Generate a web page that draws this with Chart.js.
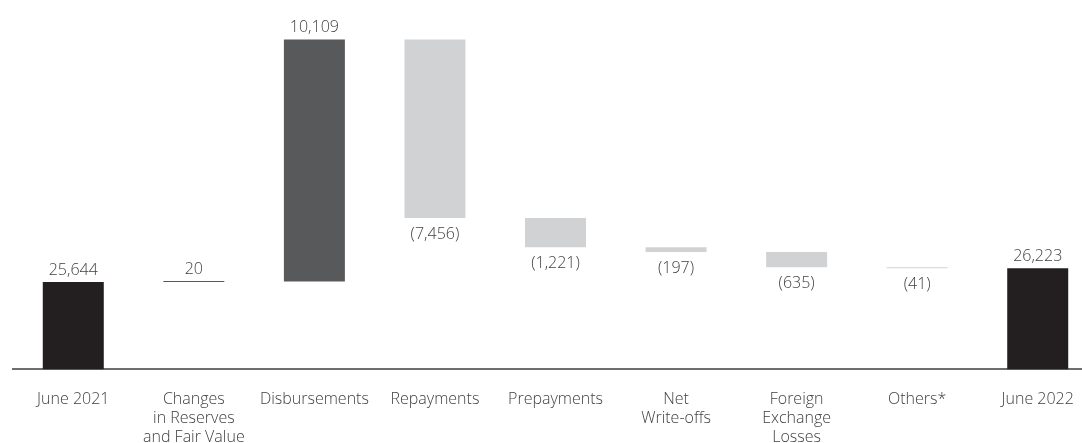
<!DOCTYPE html>
<html>
<head>
    <title>Loan Portfolio Movement</title>
    <script src="https://cdn.jsdelivr.net/npm/chart.js"></script>
    <style>
      body { margin: 0; overflow: hidden; background: #fff; }
    </style>
</head>
<body>
    <canvas id="chart" width="1100" height="467"></canvas>

    <script>
    // categories and values
    const labels = [
      'June 2021',
      ['Changes', 'in Reserves', 'and Fair Value'],
      'Disbursements',
      'Repayments',
      'Prepayments',
      ['Net', 'Write-offs'],
      ['Foreign', 'Exchange', 'Losses'],
      'Others*',
      'June 2022'
    ];
    const startTotal = 25644;
    const changes = [20, 10109, -7456, -1221, -197, -635, -41];
    const endTotal = 26223;

    const axisMin = 22000;
    const axisMax = 37000;

    // build floating bars for the waterfall
    const bars = [[axisMin, startTotal]];
    const shown = [startTotal];
    const colors = ['#231f20'];
    let running = startTotal;
    changes.forEach(c => {
      bars.push([running, running + c]);
      running += c;
      shown.push(c);
      colors.push(c >= 0 ? '#58595b' : '#d1d2d4');
    });
    bars.push([axisMin, endTotal]);
    shown.push(endTotal);
    colors.push('#231f20');

    function fmt(v) {
      const s = Math.abs(v).toLocaleString('en-US');
      return v < 0 ? '(' + s + ')' : s;
    }

    const valueLabels = {
      id: 'valueLabels',
      afterDatasetsDraw(chart) {
        const ctx = chart.ctx;
        const meta = chart.getDatasetMeta(0);
        ctx.save();
        ctx.font = '300 16px "Open Sans"';
        ctx.fillStyle = '#414042';
        ctx.textAlign = 'center';
        meta.data.forEach((bar, i) => {
          const v = shown[i];
          const top = Math.min(bar.y, bar.base);
          const bottom = Math.max(bar.y, bar.base);
          if (v < 0) {
            ctx.textBaseline = 'top';
            ctx.fillText(fmt(v), bar.x, bottom + 8);
          } else {
            ctx.textBaseline = 'bottom';
            ctx.fillText(fmt(v), bar.x, top - 4);
          }
        });
        ctx.restore();
      }
    };

    const ctx = document.getElementById('chart').getContext('2d');
    const chart = new Chart(ctx, {
      type: 'bar',
      data: {
        labels: labels,
        datasets: [{
          data: bars,
          backgroundColor: colors,
          borderWidth: 0,
          barPercentage: 0.506,
          categoryPercentage: 1,
          minBarLength: 1
        }]
      },
      options: {
        responsive: false,
        animation: false,
        devicePixelRatio: 1,
        layout: { padding: { left: 13, right: 2, top: 10, bottom: 0 } },
        plugins: {
          legend: { display: false },
          tooltip: { enabled: false }
        },
        scales: {
          x: {
            offset: true,
            grid: { display: false, drawTicks: false },
            border: { display: true, color: '#6d6e70', width: 2 },
            ticks: {
              autoSkip: false,
              maxRotation: 0,
              padding: 20,
              color: '#414042',
              font: { family: 'Open Sans', size: 16, weight: 300, lineHeight: 1.2 }
            }
          },
          y: {
            display: false,
            min: axisMin,
            max: axisMax
          }
        }
      },
      plugins: [valueLabels]
    });
    </script>
</body>
</html>
